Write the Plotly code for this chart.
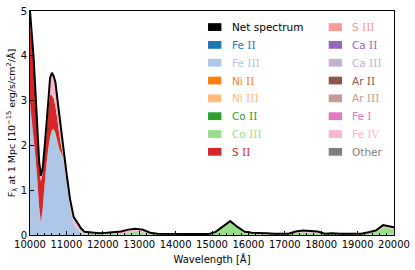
import plotly.graph_objects as go

wavelength = [10000, 10050, 10100, 10150, 10200, 10250, 10300, 10350, 10400, 10450,
              10500, 10550, 10600, 10650, 10700, 10750, 10800, 10850, 10900, 10950,
              11000, 11100, 11200, 11300, 11400, 11500, 11700, 11900, 12100, 12300,
              12500, 12700, 12900, 13100, 13300, 13500, 13700, 13900, 14100, 14300,
              14500, 14700, 14900, 15100, 15300, 15500, 15700, 15900, 16100, 16300,
              16500, 16700, 16900, 17100, 17300, 17500, 17700, 17900, 18100, 18300,
              18500, 18700, 18900, 19100, 19300, 19500, 19700, 19900, 20000]

net_flux = [5.0, 4.5, 3.95, 3.2, 2.45, 1.65, 1.32, 1.5, 1.95, 2.4,
            2.95, 3.5, 3.62, 3.55, 3.4, 3.05, 2.7, 2.4, 2.0, 1.65,
            1.4, 0.8, 0.4, 0.28, 0.15, 0.07, 0.05, 0.04, 0.05, 0.06,
            0.08, 0.12, 0.14, 0.12, 0.05, 0.03, 0.03, 0.02, 0.02, 0.02,
            0.015, 0.015, 0.02, 0.07, 0.19, 0.31, 0.18, 0.07, 0.05, 0.05,
            0.04, 0.03, 0.03, 0.03, 0.08, 0.1, 0.09, 0.08, 0.03, 0.04,
            0.03, 0.03, 0.025, 0.03, 0.06, 0.1, 0.22, 0.19, 0.17]

fe_iii = [2.95, 2.55, 2.15, 1.75, 1.25, 0.65, 0.28, 0.6, 1.1, 1.55,
          1.9, 2.15, 2.3, 2.32, 2.22, 2.05, 1.88, 1.8, 1.72, 1.45,
          1.22, 0.62, 0.25, 0.12, 0.05, 0.02, 0.01, 0.01, 0.01, 0.01,
          0.01, 0.01, 0.01, 0.01, 0.005, 0, 0, 0, 0, 0,
          0, 0, 0, 0, 0, 0, 0, 0, 0, 0,
          0, 0, 0, 0, 0, 0, 0, 0, 0, 0,
          0, 0, 0, 0, 0.005, 0.01, 0.01, 0.01, 0.01]

co_iii = [0, 0, 0, 0, 0, 0, 0, 0, 0.01, 0.01,
          0.02, 0.03, 0.04, 0.05, 0.05, 0.05, 0.05, 0.04, 0.03, 0.02,
          0.02, 0.02, 0.01, 0.01, 0.01, 0.01, 0.01, 0.01, 0.01, 0.01,
          0.02, 0.04, 0.06, 0.05, 0.02, 0.01, 0.01, 0.01, 0.01, 0.01,
          0.01, 0.01, 0.015, 0.065, 0.18, 0.3, 0.16, 0.04, 0.02, 0.01,
          0.01, 0.01, 0.01, 0.015, 0.05, 0.06, 0.05, 0.04, 0.015, 0.02,
          0.015, 0.015, 0.01, 0.015, 0.035, 0.06, 0.15, 0.14, 0.13]

s_ii = [1.75, 1.75, 1.65, 1.33, 1.08, 0.9, 0.92, 0.78, 0.72, 0.7,
        0.85, 0.95, 0.78, 0.68, 0.6, 0.5, 0.35, 0.18, 0.05, 0.02,
        0.01, 0, 0, 0, 0, 0, 0, 0, 0, 0,
        0, 0, 0, 0, 0, 0, 0, 0, 0, 0,
        0, 0, 0, 0, 0, 0, 0, 0, 0, 0,
        0, 0, 0, 0, 0, 0, 0, 0, 0, 0,
        0, 0, 0, 0, 0, 0, 0, 0, 0]

fe_iv = [0.3, 0.2, 0.15, 0.12, 0.12, 0.1, 0.12, 0.12, 0.12, 0.14,
         0.18, 0.37, 0.5, 0.5, 0.53, 0.45, 0.42, 0.38, 0.2, 0.16,
         0.15, 0.16, 0.14, 0.15, 0.09, 0.04, 0.03, 0.02, 0.03, 0.04,
         0.05, 0.07, 0.07, 0.06, 0.025, 0.02, 0.02, 0.01, 0.01, 0.01,
         0.005, 0.005, 0.005, 0.005, 0.01, 0.01, 0.02, 0.03, 0.03, 0.04,
         0.03, 0.02, 0.02, 0.015, 0.03, 0.04, 0.04, 0.04, 0.015, 0.02,
         0.015, 0.015, 0.015, 0.015, 0.02, 0.03, 0.06, 0.04, 0.03]

legend_names = ["Net spectrum", "Fe II", "Fe III", "Ni II", "Ni III", "Co II", "Co III", "S II",
                "S III", "Ca II", "Ca III", "Ar II", "Ar III", "Fe I", "Fe IV", "Other"]
legend_colors = ["#000000", "#1f77b4", "#aec7e8", "#ff7f0e", "#ffbb78", "#2ca02c", "#98df8a", "#d62728",
                 "#ff9896", "#9467bd", "#c5b0d5", "#8c564b", "#c49c94", "#e377c2", "#f7b6d2", "#7f7f7f"]

x_ticks = [10000, 11000, 12000, 13000, 14000, 15000, 16000, 17000, 18000, 19000, 20000]
y_ticks = [0, 1, 2, 3, 4, 5]

color_of = dict(zip(legend_names, legend_colors))

fig = go.Figure()
for name, vals in [("Fe III", fe_iii), ("Co III", co_iii), ("S II", s_ii), ("Fe IV", fe_iv)]:
    fig.add_trace(go.Scatter(x=wavelength, y=vals, name=name, stackgroup="ions",
                             mode="none", fillcolor=color_of[name], showlegend=False))
fig.add_trace(go.Scatter(x=wavelength, y=net_flux, name="Net spectrum", mode="lines",
                         line=dict(color="black", width=2), showlegend=False))

# legend (two columns, drawn as swatches + coloured text)
L, R, T, B = 30, 398, 5, 235
W, H = R - L, B - T
def px(x):
    return (x - L) / W
def py(y):
    return (B - y) / H

def fmt(name):
    parts = name.split(" ")
    if len(parts) == 2 and set(parts[1]) <= set("IV"):
        return parts[0] + " <span style='font-family:DejaVu Serif'>" + parts[1] + "</span>"
    return name

for i, (name, col) in enumerate(zip(legend_names, legend_colors)):
    c, r = divmod(i, 8)
    sx = 210 if c == 0 else 332
    cy = 21.5 + r * 18.3
    fig.add_shape(type="rect", xref="paper", yref="paper",
                  x0=px(sx), x1=px(sx + 13.5), y0=py(cy + 4), y1=py(cy - 4),
                  fillcolor=col, line=dict(width=0))
    fig.add_annotation(xref="paper", yref="paper", x=px(sx + 22), y=py(cy),
                       text=fmt(name), showarrow=False, xanchor="left", yanchor="middle",
                       font=dict(family="DejaVu Sans", size=10.5, color=col))

fig.update_layout(
    width=415, height=270, autosize=False,
    margin=dict(l=L, r=415 - R, t=T, b=270 - B),
    paper_bgcolor="white", plot_bgcolor="white",
    font=dict(family="DejaVu Sans", size=10, color="black"),
    showlegend=False,
)
fig.update_xaxes(range=[10000, 20000], tickvals=x_ticks, ticktext=[str(v) for v in x_ticks],
                 ticks="inside", ticklen=4, tickwidth=1, tickcolor="black",
                 minor=dict(dtick=200, ticks="inside", ticklen=2, tickcolor="black"),
                 showline=True, mirror=True, linecolor="black", linewidth=1,
                 showgrid=False, zeroline=False,
                 tickfont=dict(size=10),
                 title=dict(text="Wavelength [Å]", font=dict(size=10), standoff=6))
fig.update_yaxes(range=[0, 5], tickvals=y_ticks, ticks="inside", ticklen=4, tickwidth=1,
                 tickcolor="black", showline=True, mirror=True, linecolor="black", linewidth=1,
                 showgrid=False, zeroline=False, tickfont=dict(size=10),
                 title=dict(text="F<sub>λ</sub> at 1 Mpc [10<sup>−15</sup> erg/s/cm<sup>2</sup>/Å]",
                            font=dict(size=9.5), standoff=3))

fig.write_html("out.html", config={"displayModeBar": False},
               post_script="document.body.style.margin='0px';document.body.style.overflow='hidden';")
